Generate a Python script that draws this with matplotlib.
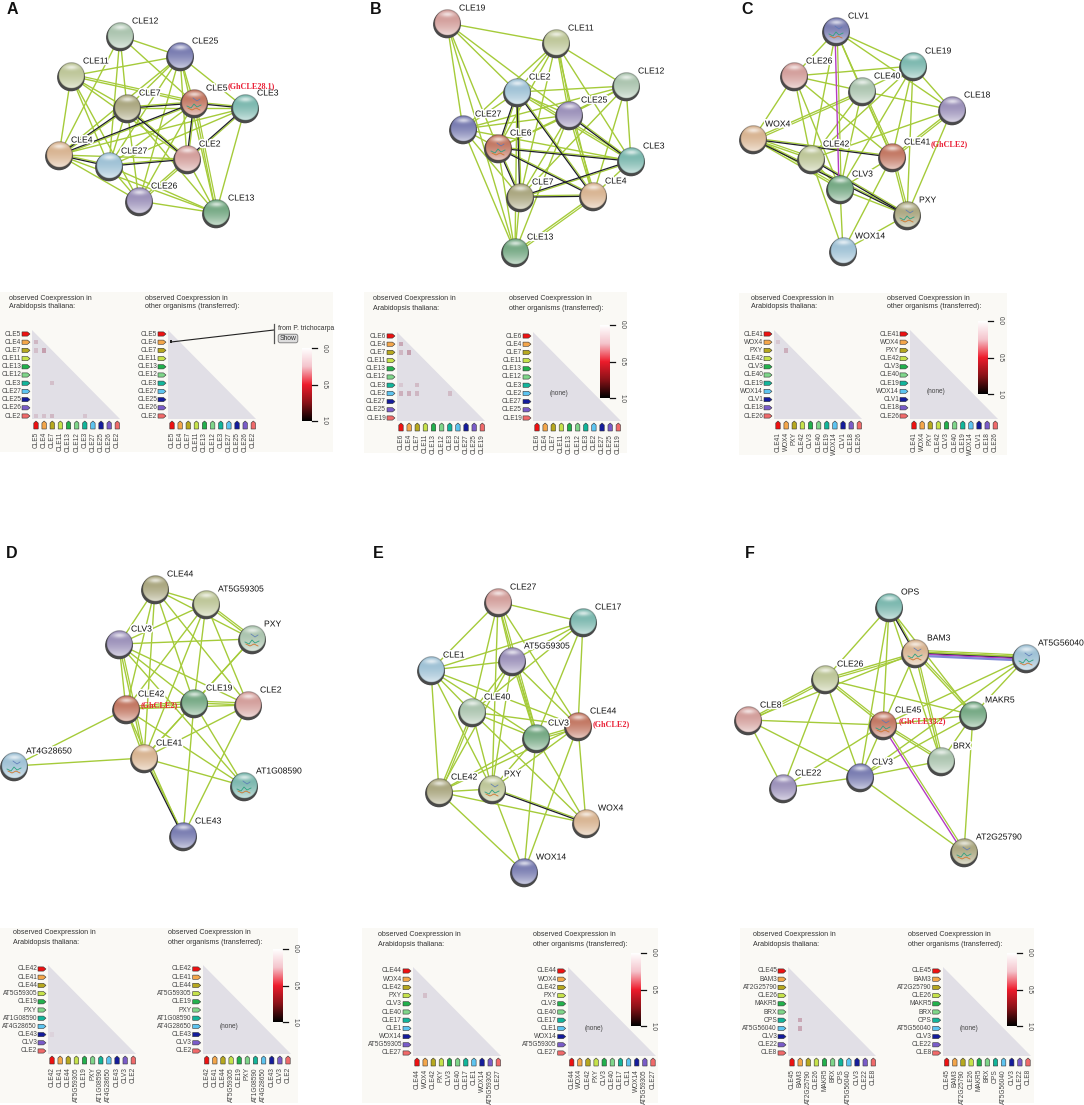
"""Six STRING networks of CLE genes, each with its coexpression triangles."""
import numpy as np
import matplotlib
matplotlib.use('Agg')
import matplotlib.pyplot as plt
import matplotlib.patheffects as pe
from matplotlib.colors import LinearSegmentedColormap, to_rgb
from matplotlib.patches import Circle, FancyBboxPatch, Polygon, Rectangle

plt.rcParams['font.family'] = ['Liberation Sans', 'DejaVu Sans']

# Panel A
a_genes = ['CLE5', 'CLE4', 'CLE7', 'CLE11', 'CLE13', 'CLE12', 'CLE3', 'CLE27', 'CLE25', 'CLE26', 'CLE2']
a_x = [194, 59, 127, 71, 216, 120, 245, 109, 180, 139, 187]
a_y = [103, 155, 108, 76, 213, 36, 108, 166, 56, 201, 159]
a_edges = ['CLE12-CLE25', 'CLE12-CLE7', 'CLE12-CLE5', 'CLE12-CLE27', 'CLE12-CLE4', 'CLE25-CLE11', 'CLE25-CLE7',
           'CLE25-CLE5', 'CLE25-CLE3', 'CLE25-CLE4', 'CLE25-CLE27', 'CLE25-CLE26', 'CLE25-CLE2', 'CLE25-CLE13',
           'CLE11-CLE7', 'CLE11-CLE5', 'CLE11-CLE4', 'CLE11-CLE27', 'CLE11-CLE2', 'CLE11-CLE26', 'CLE7-CLE3',
           'CLE7-CLE27', 'CLE7-CLE26', 'CLE7-CLE13', 'CLE5-CLE27', 'CLE5-CLE26', 'CLE5-CLE13', 'CLE3-CLE4',
           'CLE3-CLE27', 'CLE3-CLE13', 'CLE4-CLE2', 'CLE4-CLE26', 'CLE4-CLE13', 'CLE27-CLE26', 'CLE27-CLE13',
           'CLE2-CLE26', 'CLE2-CLE13', 'CLE26-CLE13']
a_dark = ['CLE7-CLE5', 'CLE7-CLE4', 'CLE7-CLE2', 'CLE5-CLE3', 'CLE5-CLE4', 'CLE5-CLE2', 'CLE3-CLE2',
          'CLE4-CLE27', 'CLE27-CLE2']
a_double = ['CLE5-CLE13', 'CLE2-CLE26', 'CLE11-CLE5']
a_cells = ['CLE4/CLE5', 'CLE7/CLE5', 'CLE7/CLE4', 'CLE3/CLE7', 'CLE2/CLE5', 'CLE2/CLE4', 'CLE2/CLE7', 'CLE2/CLE3']
a_cell_vals = [0.5, 0.4, 0.8, 0.4, 0.35, 0.4, 0.5, 0.35]
a_struct = ['CLE5']

# Panel B
b_genes = ['CLE6', 'CLE4', 'CLE7', 'CLE11', 'CLE13', 'CLE12', 'CLE3', 'CLE2', 'CLE27', 'CLE25', 'CLE19']
b_x = [498, 593, 520, 556, 515, 626, 631, 517, 463, 569, 447]
b_y = [148, 196, 197, 43, 252, 86, 161, 92, 129, 115, 23]
b_edges = ['CLE19-CLE11', 'CLE19-CLE2', 'CLE19-CLE25', 'CLE19-CLE6', 'CLE19-CLE27', 'CLE19-CLE13', 'CLE11-CLE12',
           'CLE11-CLE2', 'CLE11-CLE25', 'CLE11-CLE27', 'CLE11-CLE6', 'CLE11-CLE3', 'CLE11-CLE7', 'CLE11-CLE4',
           'CLE12-CLE2', 'CLE12-CLE25', 'CLE12-CLE27', 'CLE12-CLE6', 'CLE12-CLE3', 'CLE12-CLE7', 'CLE12-CLE4',
           'CLE2-CLE25', 'CLE2-CLE27', 'CLE2-CLE3', 'CLE2-CLE13', 'CLE25-CLE27', 'CLE25-CLE6', 'CLE25-CLE7',
           'CLE25-CLE4', 'CLE25-CLE13', 'CLE27-CLE6', 'CLE27-CLE3', 'CLE27-CLE7', 'CLE27-CLE13', 'CLE6-CLE13',
           'CLE3-CLE4', 'CLE7-CLE13', 'CLE4-CLE13']
b_dark = ['CLE2-CLE6', 'CLE2-CLE7', 'CLE2-CLE4', 'CLE25-CLE3', 'CLE6-CLE3', 'CLE6-CLE7', 'CLE6-CLE4',
          'CLE3-CLE7', 'CLE7-CLE4']
b_double = ['CLE4-CLE13', 'CLE11-CLE25', 'CLE25-CLE4', 'CLE2-CLE3']
b_cells = ['CLE4/CLE6', 'CLE7/CLE6', 'CLE7/CLE4', 'CLE3/CLE6', 'CLE3/CLE7', 'CLE2/CLE6', 'CLE2/CLE4', 'CLE2/CLE7',
           'CLE2/CLE3']
b_cell_vals = [0.7, 0.5, 0.8, 0.3, 0.45, 0.6, 0.6, 0.5, 0.45]
b_struct = ['CLE6']

# Panel C
c_genes = ['CLE41', 'WOX4', 'PXY', 'CLE42', 'CLV3', 'CLE40', 'CLE19', 'WOX14', 'CLV1', 'CLE18', 'CLE26']
c_x = [892, 753, 907, 811, 840, 862, 913, 843, 836, 952, 794]
c_y = [157, 139, 215, 159, 189, 91, 66, 251, 31, 110, 76]
c_edges = ['CLV1-CLE26', 'CLV1-CLE19', 'CLV1-CLE40', 'CLV1-CLE18', 'CLV1-CLE41', 'CLV1-CLE42', 'CLE26-CLE19',
           'CLE26-CLE40', 'CLE26-WOX4', 'CLE26-CLE42', 'CLE26-CLV3', 'CLE26-CLE41', 'CLE19-CLE40', 'CLE19-CLE18',
           'CLE19-CLE42', 'CLE19-CLE41', 'CLE19-CLV3', 'CLE19-PXY', 'CLE40-CLE18', 'CLE40-WOX4', 'CLE40-CLE42',
           'CLE40-CLE41', 'CLE40-CLV3', 'CLE18-CLE42', 'CLE18-CLE41', 'CLE18-PXY', 'WOX4-CLE42', 'WOX4-CLV3',
           'CLE42-CLV3', 'CLE42-WOX14', 'CLE41-CLV3', 'CLE41-PXY', 'CLE41-WOX14', 'CLV3-PXY', 'CLV3-WOX14',
           'PXY-WOX14']
c_dark = ['WOX4-CLE41', 'WOX4-PXY', 'CLE42-PXY']
c_double = ['CLE40-WOX4', 'CLE40-CLE41', 'CLE18-CLE41', 'CLE41-PXY', 'WOX4-CLV3', 'WOX4-CLE42']
c_cells = ['WOX4/CLE41', 'PXY/WOX4']
c_cell_vals = [0.3, 0.6]
c_struct = ['CLV1', 'PXY']

# Panel D
d_genes = ['CLE42', 'CLE41', 'CLE44', 'AT5G59305', 'CLE19', 'PXY', 'AT1G08590', 'AT4G28650', 'CLE43', 'CLV3', 'CLE2']
d_x = [126, 144, 155, 206, 194, 252, 244, 14, 183, 119, 248]
d_y = [709, 758, 589, 604, 703, 639, 786, 766, 836, 644, 705]
d_edges = ['CLE44-AT5G59305', 'CLE44-CLV3', 'CLE44-PXY', 'CLE44-CLE42', 'CLE44-CLE19', 'CLE44-CLE2', 'CLE44-CLE41',
           'AT5G59305-PXY', 'AT5G59305-CLV3', 'AT5G59305-CLE42', 'AT5G59305-CLE19', 'AT5G59305-CLE2',
           'AT5G59305-CLE41', 'PXY-CLV3', 'PXY-CLE41', 'PXY-CLE19', 'CLV3-CLE42', 'CLV3-CLE19', 'CLV3-CLE2',
           'CLV3-CLE41', 'CLV3-AT1G08590', 'CLE42-CLE19', 'CLE42-CLE2', 'CLE42-AT4G28650', 'CLE42-CLE41',
           'CLE42-AT1G08590', 'CLE42-CLE43', 'CLE19-CLE2', 'CLE19-CLE41', 'CLE19-CLE43', 'CLE19-AT1G08590',
           'CLE2-CLE41', 'CLE2-CLE43', 'AT4G28650-CLE41', 'CLE41-AT1G08590']
d_dark = ['CLE41-CLE43']
d_double = ['CLE19-CLE2', 'CLV3-CLE41', 'AT5G59305-PXY', 'CLE42-CLE19']
d_cells = ['CLE43/CLE42']
d_cell_vals = [0.15]
d_struct = ['PXY', 'AT4G28650', 'AT1G08590']

# Panel E
e_genes = ['CLE44', 'WOX4', 'CLE42', 'PXY', 'CLV3', 'CLE40', 'CLE17', 'CLE1', 'WOX14', 'AT5G59305', 'CLE27']
e_x = [578, 586, 439, 492, 536, 472, 583, 431, 524, 512, 498]
e_y = [726, 823, 792, 789, 738, 712, 622, 670, 872, 661, 602]
e_edges = ['CLE27-CLE17', 'CLE27-CLE1', 'CLE27-AT5G59305', 'CLE27-CLE40', 'CLE27-CLV3', 'CLE27-CLE44', 'CLE27-PXY',
           'CLE17-CLE1', 'CLE17-AT5G59305', 'CLE17-CLE40', 'CLE17-CLV3', 'CLE17-CLE44', 'AT5G59305-CLE1',
           'AT5G59305-CLE40', 'AT5G59305-CLV3', 'AT5G59305-CLE44', 'AT5G59305-PXY', 'AT5G59305-CLE42', 'CLE1-CLE40',
           'CLE1-CLV3', 'CLE1-CLE44', 'CLE1-CLE42', 'CLE1-PXY', 'CLE40-CLV3', 'CLE40-CLE44', 'CLE40-CLE42',
           'CLE40-PXY', 'CLE40-WOX4', 'CLV3-CLE44', 'CLV3-CLE42', 'CLV3-PXY', 'CLV3-WOX4', 'CLV3-WOX14',
           'CLE44-CLE42', 'CLE44-PXY', 'CLE44-WOX4', 'CLE44-WOX14', 'CLE42-PXY', 'CLE42-WOX4', 'CLE42-WOX14',
           'PXY-WOX14']
e_dark = ['PXY-WOX4']
e_double = ['CLE27-CLV3', 'CLE40-CLE42', 'AT5G59305-CLV3', 'CLE44-CLV3']
e_cells = ['PXY/WOX4']
e_cell_vals = [0.4]
e_struct = ['PXY']

# Panel F
f_genes = ['CLE45', 'BAM3', 'AT2G25790', 'CLE26', 'MAKR5', 'BRX', 'OPS', 'AT5G56040', 'CLV3', 'CLE22', 'CLE8']
f_x = [883, 915, 964, 825, 973, 941, 889, 1026, 860, 783, 748]
f_y = [725, 653, 852, 679, 715, 761, 607, 658, 777, 788, 720]
f_edges = ['OPS-CLE26', 'OPS-CLE45', 'OPS-CLV3', 'OPS-MAKR5', 'OPS-BRX', 'BAM3-CLE26', 'BAM3-CLE45', 'BAM3-BRX',
           'BAM3-MAKR5', 'BAM3-CLE8', 'AT5G56040-CLE45', 'AT5G56040-CLV3', 'AT5G56040-MAKR5', 'CLE26-CLE8',
           'CLE26-CLE45', 'CLE26-CLE22', 'CLE26-CLV3', 'CLE26-MAKR5', 'MAKR5-CLE45', 'MAKR5-CLV3', 'MAKR5-BRX',
           'MAKR5-AT2G25790', 'CLE45-CLE8', 'CLE45-CLE22', 'CLE45-CLV3', 'CLE45-BRX', 'BRX-CLV3', 'CLE8-CLV3',
           'CLE22-CLV3', 'CLE8-CLE22', 'CLV3-AT2G25790']
f_dark = ['OPS-BAM3', 'BAM3-AT5G56040']
f_double = ['CLE26-CLE8', 'CLE26-CLE45', 'BAM3-CLE26', 'BAM3-BRX', 'BAM3-MAKR5', 'CLE45-BRX']
f_cells = ['OPS/BAM3', 'AT5G56040/BAM3']
f_cell_vals = [0.7, 0.7]
f_struct = ['CLE45', 'BAM3', 'AT5G56040', 'AT2G25790']

# magenta evidence lines, panel C and panel F
c_magenta = ['CLV1-CLV3']
f_magenta = ['CLE45-AT2G25790', 'BAM3-AT5G56040']

panel_letters = ['A', 'B', 'C', 'D', 'E', 'F']
letter_x = [12, 376, 747, 12, 378, 750]
letter_y = [9, 9, 9, 553, 553, 553]

# red tags, the name given to the node in cotton
tag_text = ['(GhCLE28.1)', '(GhCLE2)', '(GhCLE2)', '(GhCLE2)', '(GhCLE33.2)']
tag_x = [251, 949, 159, 611, 922]
tag_y = [86, 144, 705, 724, 721]

# layout of the six coexpression blocks
bg_left = [0, 364, 739, 0, 362, 740]
bg_right = [333, 627, 1007, 298, 658, 1034]
bg_top = [292, 292, 293, 928, 928, 928]
bg_bottom = [452, 453, 455, 1103, 1103, 1103]
title_x = [9, 373, 751, 13, 378, 753]
title_y = [298, 299, 298, 933, 935, 935]
tri_left = [32, 397, 774, 48, 413, 788]
tri_top = [330, 332, 330, 965, 967, 967]
second_dx = [136, 136, 136, 154.7, 154.7, 154.7]
cbar_x = [302, 600, 978, 273, 631, 1007]
cbar_y = [348, 325, 321, 949, 953, 953]

node_colors = ['#C9725A', '#E2B890', '#ADA97C', '#C3CD98', '#6FAB80', '#AECBB2',
               '#77BDB2', '#A0C8DF', '#7478B5', '#9C90BF', '#DC9F9B']
tag_colors = ['#EE1111', '#F4A64A', '#B7A81E', '#C6E24A', '#22B14C', '#7FD68A',
              '#12B59A', '#5DC4F0', '#141C9C', '#7A5CC8', '#F06A6A']

EDGE_GREEN = '#A5CB3A'
TRI_COLOR = '#E1DFE6'
BG_COLOR = '#FAF9F5'

coexp_cmap = LinearSegmentedColormap.from_list('coexp', ['#FFFFFF', '#F4C4CC', '#EE1C2C', '#8A1218', '#000000'])
cell_cmap = LinearSegmentedColormap.from_list('cell', [TRI_COLOR, '#BE8FA0'])

fig = plt.figure(figsize=(10.84, 11.05), dpi=100)
ax = fig.add_axes([0, 0, 1, 1])


def sphere(color):
    # shaded ball as an RGBA image, same look as the STRING bubbles
    n = 64
    v, u = np.mgrid[-1:1:n * 1j, -1:1:n * 1j]
    r = np.sqrt(u ** 2 + v ** 2)
    base = np.array(to_rgb(color))
    t = np.clip((v + 1) / 2, 0, 1)[..., None]
    img = base * 0.94 * (1 - t ** 2 * 0.68) + t ** 2 * 0.68
    h = np.exp(-((u / 0.55) ** 2 + ((v + 0.62) / 0.2) ** 2))[..., None] * 0.7
    img = img * (1 - h) + h
    e = (np.clip((r - 0.9) / 0.1, 0, 1) ** 1.5)[..., None]
    img = img * (1 - e) + base * 0.3 * e
    alpha = np.clip((1 - r) * 24, 0, 1)[..., None]
    return np.dstack([img, alpha])


spheres = [sphere(c) for c in node_colors]


def offset_line(p, q, d):
    # shift a segment sideways by d pixels
    p, q = np.array(p, float), np.array(q, float)
    nrm = np.array([q[1] - p[1], p[0] - q[0]]) / np.hypot(*(q - p))
    return [p[0] + nrm[0] * d, q[0] + nrm[0] * d], [p[1] + nrm[1] * d, q[1] + nrm[1] * d]


def draw_network(genes, xs, ys, edges, dark, double, struct, magenta=()):
    pos = {g: (x, y) for g, x, y in zip(genes, xs, ys)}
    for e in edges:
        g1, g2 = e.split('-')
        ax.plot(*zip(pos[g1], pos[g2]), color=EDGE_GREEN, lw=1.0, zorder=2, solid_capstyle='butt')
    for e in double:
        g1, g2 = e.split('-')
        lx, ly = offset_line(pos[g1], pos[g2], 2.0)
        ax.plot(lx, ly, color=EDGE_GREEN, lw=0.9, zorder=2)
    for e in dark:
        g1, g2 = e.split('-')
        lx, ly = offset_line(pos[g1], pos[g2], 1.1)
        ax.plot(lx, ly, color=EDGE_GREEN, lw=0.9, zorder=2)
        lx, ly = offset_line(pos[g1], pos[g2], -0.2)
        ax.plot(lx, ly, color='#1E1E2A', lw=0.9, zorder=3)
    for e in magenta:
        g1, g2 = e.split('-')
        lx, ly = offset_line(pos[g1], pos[g2], 1.2)
        ax.plot(lx, ly, color=EDGE_GREEN, lw=0.9, zorder=2)
        lx, ly = offset_line(pos[g1], pos[g2], -1.0)
        ax.plot(lx, ly, color='#B53BC4', lw=1.0, zorder=3)
        if g2 == 'AT5G56040':
            lx, ly = offset_line(pos[g1], pos[g2], -2.6)
            ax.plot(lx, ly, color='#7F88D8', lw=1.6, zorder=3)
            lx, ly = offset_line(pos[g1], pos[g2], 2.8)
            ax.plot(lx, ly, color=EDGE_GREEN, lw=0.9, zorder=3)
    for i, g in enumerate(genes):
        x, y = pos[g]
        ax.add_patch(Circle((x, y + 1.4), 13.2, color='#4A4A4A', zorder=4))
        ax.imshow(spheres[i], extent=(x - 13.5, x + 13.5, y + 13.5, y - 13.5), aspect='auto',
                  interpolation='bilinear', zorder=5)
        if g in struct:
            ax.plot([x - 7, x - 3, x, x + 3, x + 7], [y + 3, y + 5, y + 1, y + 4, y + 2], color='#2FA080', lw=0.6, zorder=6)
            ax.plot([x - 6, x - 2, x + 2, x + 6], [y + 5, y + 7, y + 5, y + 7], color='#D0762E', lw=0.6, zorder=6)
            ax.plot([x - 1, x + 3, x + 6], [y - 5, y - 2, y - 4], color='#5A78B8', lw=0.5, zorder=6)
        ax.text(x + 12, y - 15, g, fontsize=6.2, color='#111111', ha='left', va='center', zorder=7,
                path_effects=[pe.withStroke(linewidth=2.4, foreground='white')])


def draw_block(k, genes, cells, vals, none_text):
    ax.add_patch(Rectangle((bg_left[k], bg_top[k]), bg_right[k] - bg_left[k], bg_bottom[k] - bg_top[k],
                           color=BG_COLOR, lw=0, zorder=1))
    for m, dx in enumerate([0, second_dx[k]]):
        tx = title_x[k] + dx
        lines = ['observed Coexpression in', 'other organisms (transferred):'] if m else \
                ['observed Coexpression in', 'Arabidopsis thaliana:']
        ax.text(tx, title_y[k], lines[0], fontsize=5.1, color='#333333', va='center', zorder=2)
        ax.text(tx, title_y[k] + 9, lines[1], fontsize=5.1, color='#333333', va='center', zorder=2)
        left = tri_left[k] + dx
        top = tri_top[k]
        ax.add_patch(Polygon([(left, top), (left, top + 89), (left + 88, top + 89)], color=TRI_COLOR, lw=0, zorder=2))
        for i, g in enumerate(genes):
            ry = top + 4 + 8.2 * i
            ax.text(left - 11, ry, g, fontsize=4.7, color='#444444', ha='right', va='center', zorder=3)
            ax.add_patch(Polygon([(left - 10, ry - 2.1), (left - 4.5, ry - 2.1), (left - 2, ry), (left - 4.5, ry + 2.1),
                                  (left - 10, ry + 2.1)], facecolor=tag_colors[i], edgecolor='#333333', lw=0.4, zorder=3))
            cx = left + 4 + 8.13 * i
            by = top + 91
            ax.add_patch(Polygon([(cx - 2.2, by + 8), (cx - 2.2, by + 2), (cx, by), (cx + 2.2, by + 2), (cx + 2.2, by + 8)],
                                 facecolor=tag_colors[i], edgecolor='#333333', lw=0.4, zorder=3))
            ax.text(cx, by + 11, g, fontsize=4.7, color='#444444', rotation=90, ha='center', va='top', zorder=3)
        if m == 0:
            for c, val in zip(cells, vals):
                g1, g2 = c.split('/')
                cy = top + 4 + 8.2 * genes.index(g1)
                cx = left + 4 + 8.13 * genes.index(g2)
                ax.add_patch(Rectangle((cx - 2.2, cy - 2.2), 4.4, 4.4, color=cell_cmap(val), lw=0, zorder=3))
        elif none_text:
            ax.text(left + 26, top + 4 + 8.2 * 7, '(none)', fontsize=4.7, color='#444444', ha='center', va='center', zorder=3)
    grad = np.linspace(0, 1, 128)[:, None]
    ax.imshow(grad, cmap=coexp_cmap, extent=(cbar_x[k], cbar_x[k] + 10, cbar_y[k] + 73, cbar_y[k]), aspect='auto', zorder=3)
    for frac, lab in zip([0, 0.5, 1], ['0.0', '0.5', '1.0']):
        ty = cbar_y[k] + 73 * frac
        ax.plot([cbar_x[k] + 10, cbar_x[k] + 15], [ty, ty], color='#111111', lw=0.9, zorder=3)
        ax.text(cbar_x[k] + 22, ty, lab, fontsize=4.7, color='#444444', rotation=270, ha='center', va='center', zorder=3)


draw_network(a_genes, a_x, a_y, a_edges, a_dark, a_double, a_struct)
draw_network(b_genes, b_x, b_y, b_edges, b_dark, b_double, b_struct)
draw_network(c_genes, c_x, c_y, c_edges, c_dark, c_double, c_struct, c_magenta)
draw_network(d_genes, d_x, d_y, d_edges, d_dark, d_double, d_struct)
draw_network(e_genes, e_x, e_y, e_edges, e_dark, e_double, e_struct)
draw_network(f_genes, f_x, f_y, f_edges, f_dark, f_double, f_struct, f_magenta)

draw_block(0, a_genes, a_cells, a_cell_vals, False)
draw_block(1, b_genes, b_cells, b_cell_vals, True)
draw_block(2, c_genes, c_cells, c_cell_vals, True)
draw_block(3, d_genes, d_cells, d_cell_vals, True)
draw_block(4, e_genes, e_cells, e_cell_vals, True)
draw_block(5, f_genes, f_cells, f_cell_vals, True)

# the one transferred hit in panel A and its callout
ax.add_patch(Rectangle((169.5, 340), 2.5, 2.5, color='#222222', lw=0, zorder=4))
ax.plot([171, 274], [342, 330], color='#222222', lw=0.8, zorder=4)
ax.plot([274, 274], [324, 343], color='#555555', lw=0.9, zorder=4)
ax.text(278, 328, 'from P. trichocarpa', fontsize=4.9, color='#333333', va='center', zorder=4)
ax.add_patch(FancyBboxPatch((279, 335), 18, 7, boxstyle='round,pad=0.8,rounding_size=2', facecolor='#DDDDDD',
                            edgecolor='#777777', lw=0.6, zorder=4))
ax.text(288, 338.5, 'Show', fontsize=4.9, color='#333333', ha='center', va='center', zorder=5)

for t, x, y in zip(tag_text, tag_x, tag_y):
    ax.text(x, y, t, fontsize=5.9, color='#EA2238', family='Liberation Serif', fontweight='bold', ha='center',
            va='center', zorder=8)
for t, x, y in zip(panel_letters, letter_x, letter_y):
    ax.text(x, y, t, fontsize=11.5, fontweight='bold', color='#111111', ha='center', va='center', zorder=8,
            family='Liberation Sans')

ax.set_xlim(0, 1084)
ax.set_ylim(1105, 0)
ax.axis('off')
fig.savefig('out.png', dpi=100, facecolor='white')
print('OK: out.png')
